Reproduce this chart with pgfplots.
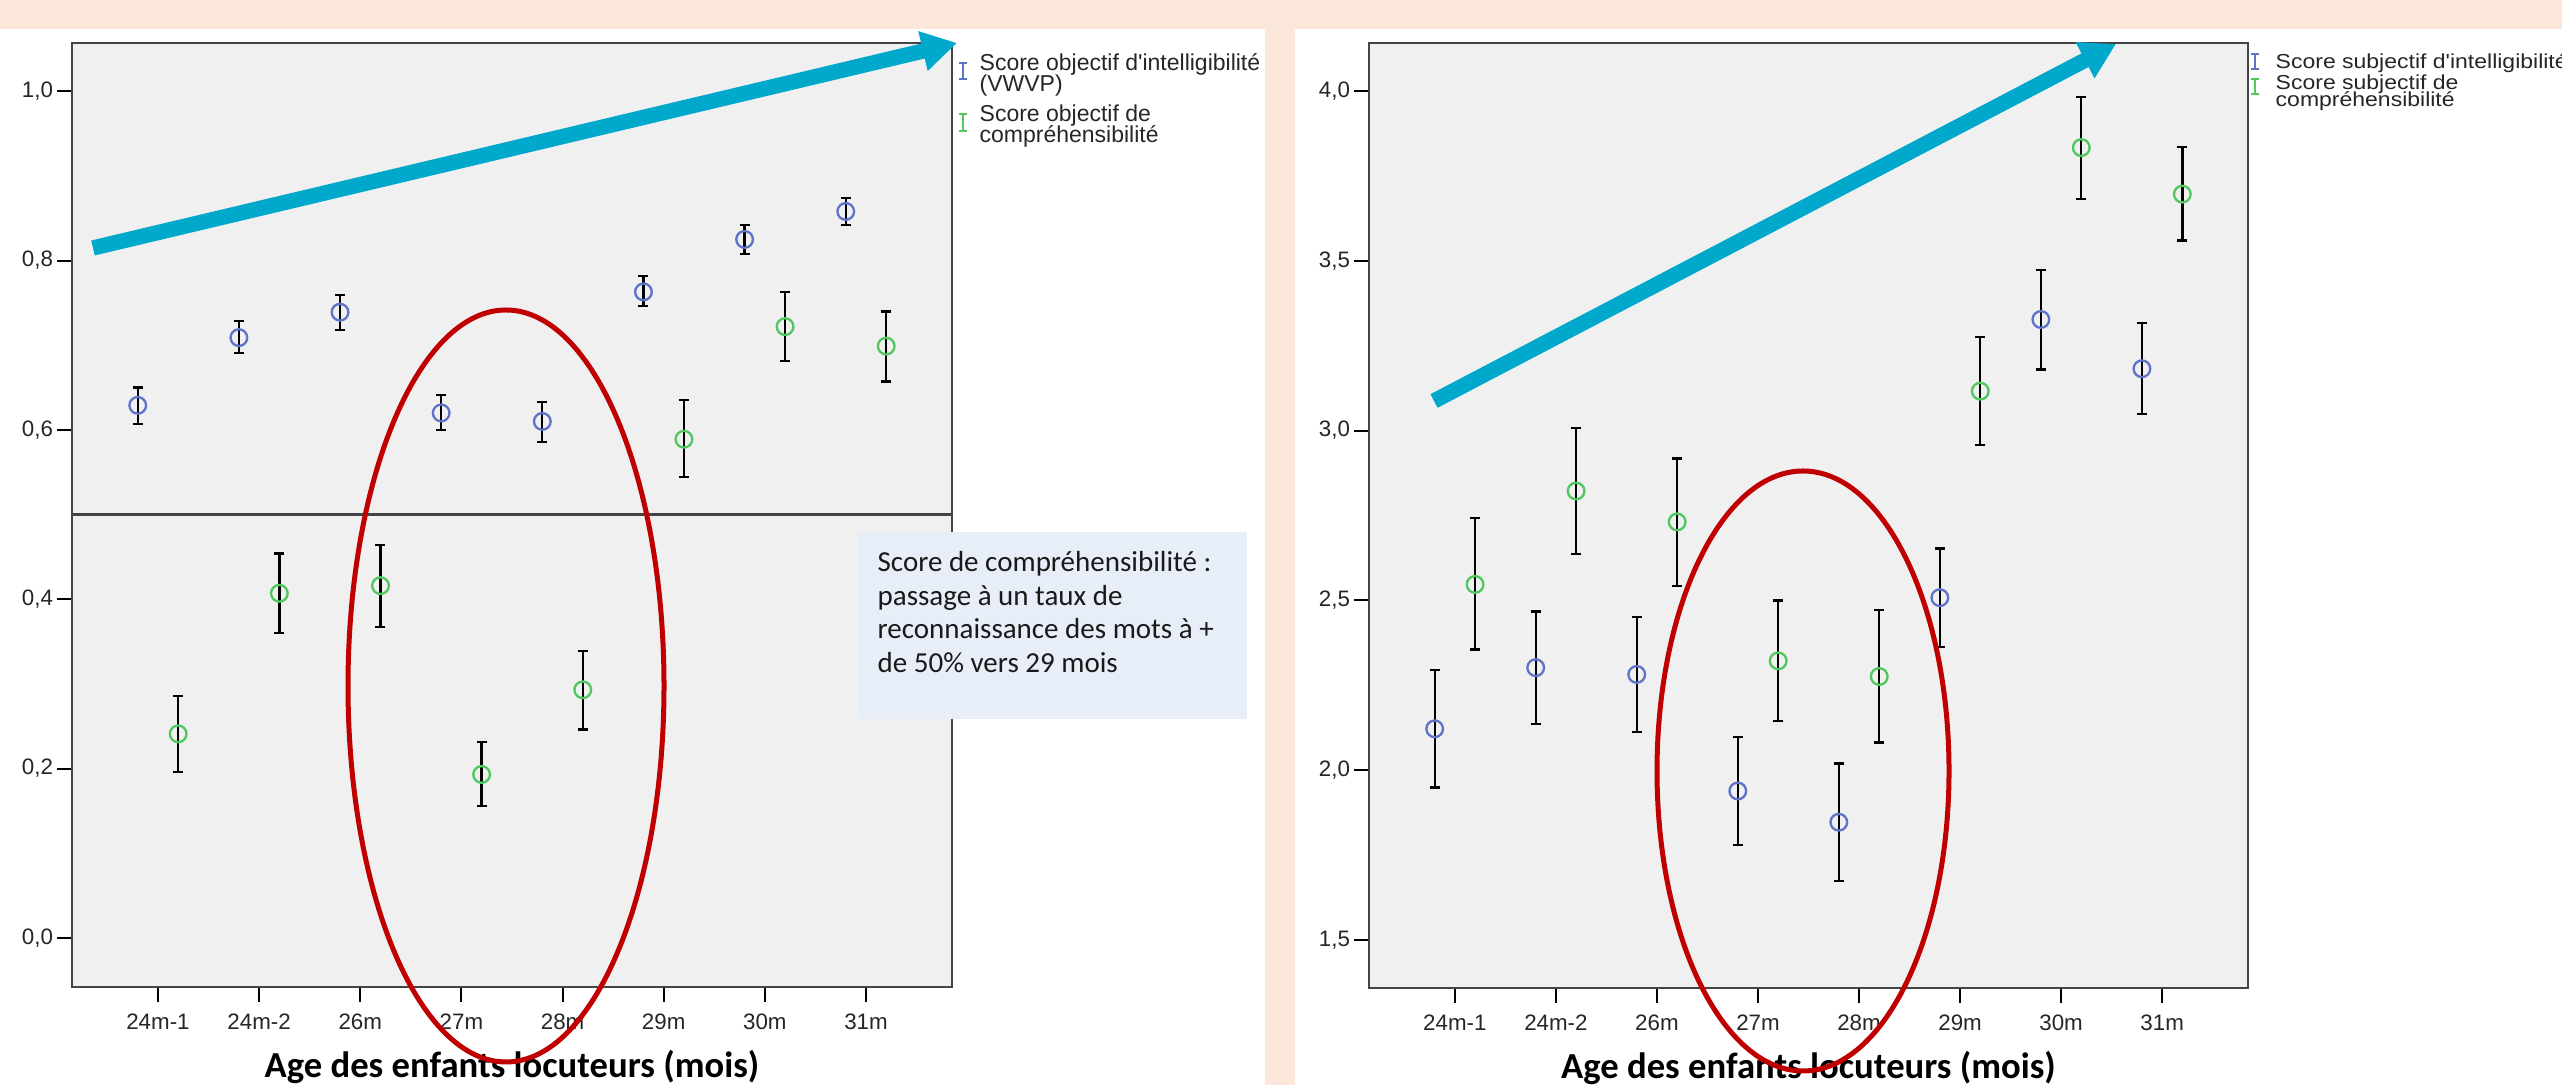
\documentclass[border=0pt]{standalone}
\usepackage{pgfplots}
\pgfplotsset{compat=1.18}
\usepackage{pgfplotstable}
\usetikzlibrary{arrows.meta}
\usepackage{fontspec}
\setmainfont{Liberation Sans}
\newfontfamily\carlito{Carlito}

\definecolor{peach}{RGB}{252,232,218}
\definecolor{plotbg}{RGB}{240,240,240}
\definecolor{framec}{RGB}{68,68,68}
\definecolor{sblue}{RGB}{95,115,200}
\definecolor{sgreen}{RGB}{80,200,95}
\definecolor{arrowc}{RGB}{0,168,204}
\definecolor{ellred}{RGB}{192,0,0}
\definecolor{boxblue}{RGB}{231,238,248}

\pgfplotstableread{
x y ep em
-0.2 0.629 0.021 0.022
0.8 0.709 0.020 0.018
1.8 0.739 0.020 0.021
2.8 0.620 0.021 0.020
3.8 0.610 0.023 0.024
4.8 0.763 0.019 0.017
5.8 0.825 0.017 0.017
6.8 0.858 0.016 0.016
}\lblue
\pgfplotstableread{
x y ep em
0.2 0.241 0.045 0.045
1.2 0.407 0.047 0.047
2.2 0.416 0.048 0.049
3.2 0.193 0.038 0.037
4.2 0.293 0.046 0.047
5.2 0.589 0.046 0.045
6.2 0.722 0.041 0.041
7.2 0.699 0.041 0.042
}\lgreen
\pgfplotstableread{
x y ep em
-0.2 2.122 0.174 0.173
0.8 2.302 0.165 0.165
1.8 2.282 0.169 0.170
2.8 1.939 0.159 0.159
3.8 1.847 0.173 0.174
4.8 2.508 0.145 0.145
5.8 3.327 0.146 0.147
6.8 3.182 0.134 0.133
}\rblue
\pgfplotstableread{
x y ep em
0.2 2.547 0.196 0.192
1.2 2.822 0.186 0.185
2.2 2.731 0.187 0.188
3.2 2.322 0.178 0.177
4.2 2.276 0.195 0.194
5.2 3.116 0.160 0.159
6.2 3.833 0.149 0.151
7.2 3.696 0.139 0.137
}\rgreen

\pgfplotsset{
  spss/.style={
    scale only axis, anchor=south west,
    xmin=-0.85, xmax=7.85,
    xtick={0,...,7},
    xticklabels={24m-1,24m-2,26m,27m,28m,29m,30m,31m},
    tick align=outside, xtick pos=left, ytick pos=left,
    major tick length=4.5pt,
    tick style={black, line width=0.6pt},
    axis line style={draw=framec, line width=0.8pt},
    axis background/.style={fill=plotbg},
    ticklabel style={font=\fontsize{6.7}{7}\selectfont, text=black!85},
    yticklabel style={inner xsep=1pt,
      /pgf/number format/fixed, /pgf/number format/fixed zerofill,
      /pgf/number format/precision=1, /pgf/number format/use comma,
      /pgf/number format/assume math mode=true},
    xlabel={Age des enfants locuteurs (mois)},
    xlabel style={font=\carlito\bfseries\fontsize{11}{13}\selectfont,
      at={(axis description cs:0.5,0)}, anchor=base, yshift=-27.3pt},
  },
  ebar/.style={only marks, mark=o, mark size=2.5pt,
    mark options={draw=#1, line width=0.7pt},
    error bars/.cd, y dir=both, y explicit,
    error bar style={black, line width=0.7pt},
    error mark options={rotate=90, mark size=1.5pt, black, line width=0.7pt}},
}

\begin{document}
\begin{tikzpicture}
% background
\begin{scope}[shift={(0pt,325.5pt)}, x=0.3pt, y=-0.3pt]
  \fill[peach] (0,0) rectangle (2562,1085);
  \fill[white] (0,29) rectangle (1265,1085);
  \fill[white] (1295,29) rectangle (2562,1085);
\end{scope}

% left axis
\begin{axis}[spss, at={(21.6pt,29.4pt)}, width=264pt, height=283.2pt,
  ymin=-0.058, ymax=1.057, ytick={0,0.2,0.4,0.6,0.8,1.0}]
  \addplot[line width=0.8pt, color=framec, forget plot] coordinates {(-0.85,0.5) (7.85,0.5)};
  \addplot[ebar=sblue] table[x=x, y=y, y error plus=ep, y error minus=em] {\lblue};
  \addplot[ebar=sgreen] table[x=x, y=y, y error plus=ep, y error minus=em] {\lgreen};
\end{axis}

% right axis
\begin{axis}[spss, at={(410.7pt,29.1pt)}, width=263.7pt, height=283.5pt,
  ymin=1.359, ymax=4.141, ytick={1.5,2.0,2.5,3.0,3.5,4.0}]
  \addplot[ebar=sblue] table[x=x, y=y, y error plus=ep, y error minus=em] {\rblue};
  \addplot[ebar=sgreen] table[x=x, y=y, y error plus=ep, y error minus=em] {\rgreen};
\end{axis}

% annotations
\begin{scope}[shift={(0pt,325.5pt)}, x=0.3pt, y=-0.3pt]
  % arrows
  \draw[line width=4.6pt, arrowc, -{Triangle[length=10.5pt,width=11.5pt]}] (93,248) -- (957,43);
  \draw[line width=4.6pt, arrowc, -{Triangle[length=10.5pt,width=11.5pt]}] (1434,401) -- (2116,44);
  % ellipses
  \draw[line width=1.5pt, ellred] (506,686) ellipse [x radius=158, y radius=376];
  \draw[line width=1.5pt, ellred] (1803,771) ellipse [x radius=146, y radius=300];
  % text box
  \fill[boxblue] (858,532) rectangle (1247,719);
  \begin{scope}[every node/.style={anchor=base west, inner sep=0pt, font=\carlito\fontsize{8.7}{10}\selectfont, text=black!90}]
    \node at (877,572) {Score de compréhensibilité :};
    \node at (877,606) {passage à un taux de};
    \node at (877,639) {reconnaissance des mots à +};
    \node at (877,673) {de 50\% vers 29 mois};
  \end{scope}
  % left legend
  \draw[sblue, line width=0.6pt] (963,63) -- (963,79) (959,63) -- (967,63) (959,79) -- (967,79);
  \draw[sgreen, line width=0.6pt] (963,114) -- (963,131) (959,114) -- (967,114) (959,131) -- (967,131);
  \begin{scope}[every node/.style={anchor=base west, inner sep=0pt, font=\fontsize{6.9}{7}\selectfont, text=black!85}]
    \node at (979,71) {Score objectif d\textquotesingle intelligibilité};
    \node at (979,92) {(VWVP)};
    \node at (979,122) {Score objectif de};
    \node at (979,143) {compréhensibilité};
  \end{scope}
  % right legend
  \draw[sblue, line width=0.6pt] (2255,54) -- (2255,69) (2251,54) -- (2259,54) (2251,69) -- (2259,69);
  \draw[sgreen, line width=0.6pt] (2255,79) -- (2255,94) (2251,79) -- (2259,79) (2251,94) -- (2259,94);
  \begin{scope}[every node/.style={anchor=base west, inner sep=0pt, font=\fontsize{6.9}{7}\selectfont, text=black!85, yscale=0.88, transform shape}]
    \node at (2275,69) {Score subjectif d\textquotesingle intelligibilité};
    \node at (2275,90) {Score subjectif de};
    \node at (2275,107) {compréhensibilité};
  \end{scope}
\end{scope}

\pgfresetboundingbox
\useasboundingbox (0,0) rectangle (768.6pt,325.5pt);
\end{tikzpicture}
\end{document}
